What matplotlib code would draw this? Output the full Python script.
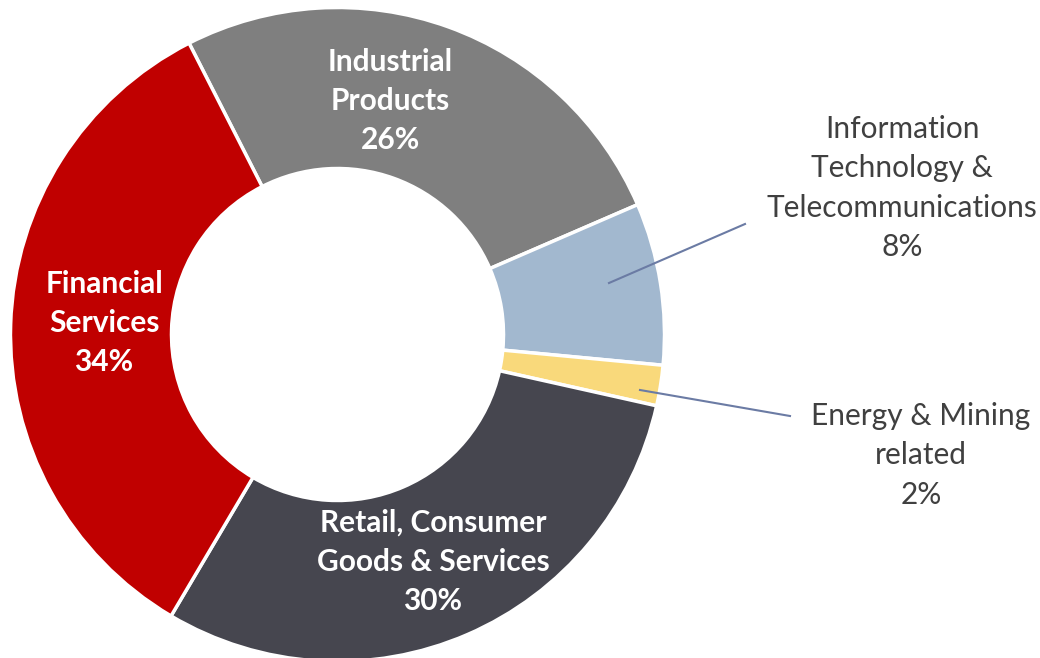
import matplotlib
matplotlib.use("Agg")
import matplotlib.pyplot as plt

categories = ["Industrial\nProducts", "Information\nTechnology &\nTelecommunications",
              "Energy & Mining\nrelated", "Retail, Consumer\nGoods & Services",
              "Financial\nServices"]
values = [26, 8, 2, 30, 34]
colors = ["#7F7F7F", "#A2B8CF", "#F9D97B", "#46464F", "#C00000"]

W, H = 1040, 658
fig = plt.figure(figsize=(W / 100, H / 100), dpi=100)
ax = fig.add_axes([0, 0, 1, 1])

cx, cy = 337.5, H - 334.5
R, r = 327, 166
wedges, _ = ax.pie(values, colors=colors, startangle=117, counterclock=False,
                   radius=R, center=(cx, cy),
                   wedgeprops=dict(width=R - r, edgecolor="white", linewidth=2.5))
ax.set_xlim(0, W)
ax.set_ylim(0, H)
ax.set_aspect("equal")
ax.axis("off")

font = "Lato"
inside = {0: (390, 101), 3: (433, 562), 4: (104, 323)}
for i, (px, py) in inside.items():
    ax.text(px, H - py, f"{categories[i]}\n{values[i]}%", ha="center", va="center",
            color="white", fontsize=21.5, fontweight="bold", family=font,
            linespacing=1.48)

outside = {1: (902, 188, (609, 283), (745, 224)),
           2: (921, 455, (640, 390), (790, 416))}
for i, (px, py, p0, p1) in outside.items():
    ax.text(px, H - py, f"{categories[i]}\n{values[i]}%", ha="center", va="center",
            color="#404040", fontsize=21.5, family=font, linespacing=1.5)
    ax.plot([p0[0], p1[0]], [H - p0[1], H - p1[1]], color="#6B7BA4", lw=1.5)

fig.savefig("out.png", dpi=100)
